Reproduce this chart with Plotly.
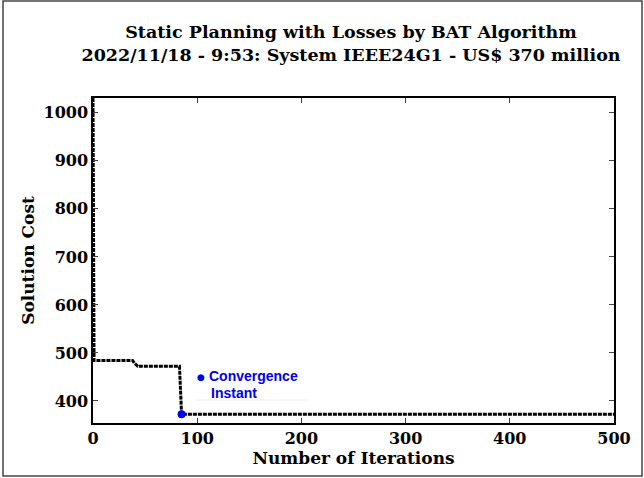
import plotly.graph_objects as go

# Data
iterations = [0, 1, 38, 40, 43, 83, 85, 500]
cost = [1031, 484, 484, 478, 472, 472, 372, 372]
conv_iter = [85]
conv_cost = [372]
x_ticks = [0, 100, 200, 300, 400, 500]
y_ticks = [400, 500, 600, 700, 800, 900, 1000]

W, H = 644, 478
L, R, T, B = 93, 30, 98, 55
pw, ph = W - L - R, H - T - B

def px(x):
    return (x - L) / pw

def py(y):
    return (H - B - y) / ph

serif = "DejaVu Serif"
blue = "#0000ee"
leg_font = dict(family="Arial", size=14, color=blue, weight="bold")

fig = go.Figure()
fig.add_trace(go.Scatter(
    x=iterations, y=cost, mode="lines",
    line=dict(color="black", width=3, dash="4px,1px"),
    showlegend=False, hoverinfo="skip"))
fig.add_trace(go.Scatter(
    x=conv_iter, y=conv_cost, mode="markers",
    marker=dict(color=blue, size=8),
    name="Convergence Instant", showlegend=False))

fig.update_layout(
    width=W, height=H,
    margin=dict(l=L, r=R, t=T, b=B, autoexpand=False),
    paper_bgcolor="white", plot_bgcolor="white",
    title=dict(
        text="<b>Static Planning with Losses by BAT Algorithm<br>2022/11/18 - 9:53: System IEEE24G1 - US$ 370 million</b>",
        x=px(351), xanchor="center", xref="paper", y=1 - 38 / H, yanchor="top",
        font=dict(family=serif, size=17.5, color="black")),
    xaxis=dict(
        range=[0, 500], tickvals=x_ticks, ticks="inside", ticklen=5,
        showline=True, linecolor="black", linewidth=1.5, mirror="ticks",
        showgrid=False, zeroline=False, automargin=False,
        tickfont=dict(family=serif, size=16, color="black", weight="bold"),
        title=dict(text="<b>Number of Iterations</b>", standoff=3,
                   font=dict(family=serif, size=17, color="black"))),
    yaxis=dict(
        range=[354, 1031], tickvals=y_ticks, ticks="inside", ticklen=5,
        showline=True, linecolor="black", linewidth=1.5, mirror="ticks",
        showgrid=False, zeroline=False, automargin=False,
        tickfont=dict(family=serif, size=16, color="black", weight="bold"),
        title=dict(text="<b>Solution Cost</b>", standoff=5,
                   font=dict(family=serif, size=17, color="black"))),
    annotations=[
        dict(xref="paper", yref="paper", x=px(201), y=py(377), text="●",
             showarrow=False, xanchor="center", yanchor="middle",
             font=dict(family="DejaVu Sans", size=9, color=blue)),
        dict(xref="paper", yref="paper", x=px(207), y=py(376), text="Convergence",
             showarrow=False, xanchor="left", yanchor="middle", font=leg_font),
        dict(xref="paper", yref="paper", x=px(209), y=py(393), text="Instant",
             showarrow=False, xanchor="left", yanchor="middle", font=leg_font),
    ],
    shapes=[
        dict(type="rect", xref="paper", yref="paper",
             x0=px(3), x1=px(642), y0=py(476), y1=py(1),
             line=dict(color="#444", width=1.5)),
        dict(type="line", xref="paper", yref="paper",
             x0=px(196), x1=px(308), y0=py(400), y1=py(400),
             line=dict(color="#eeeeee", width=1)),
    ],
)

fig.write_html("out.html", config={"displayModeBar": False},
               post_script="document.body.style.margin='0';")
